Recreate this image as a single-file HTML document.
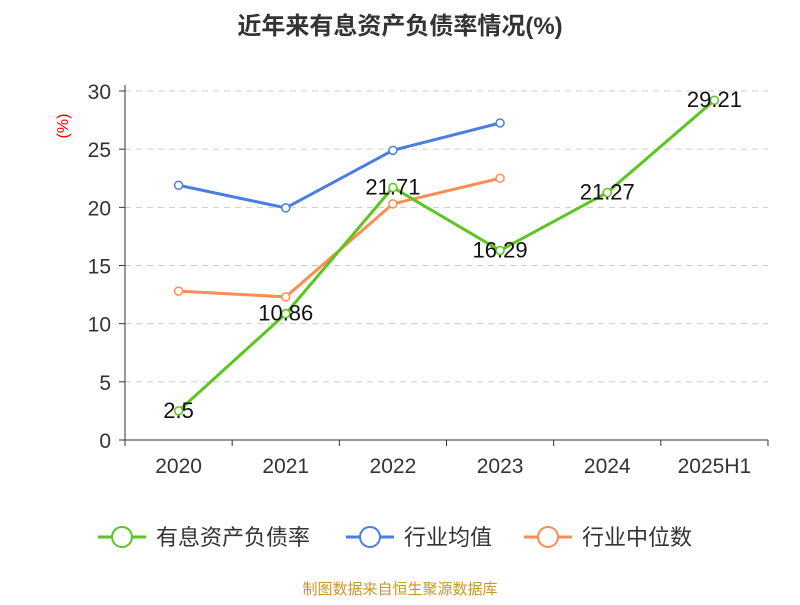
<!DOCTYPE html>
<html><head><meta charset="utf-8"><style>
body{margin:0;background:#fff;font-family:"Liberation Sans","Noto Sans CJK SC",sans-serif}
</style></head><body>
<svg id="c" width="800" height="600" xmlns="http://www.w3.org/2000/svg" style="font-family:'Liberation Sans','Noto Sans CJK SC',sans-serif">
<text x="400" y="34" text-anchor="middle" font-size="24" font-weight="bold" fill="#333">近年来有息资产负债率情况(%)</text>
<text x="68" y="126" text-anchor="middle" font-size="16" fill="#e00" transform="rotate(-90 68 126)">(%)</text>
<g id="grid"></g><g id="axes"></g><g id="series"></g>
<g>
<g><line x1="98" y1="537" x2="146" y2="537" stroke="#5cc51f" stroke-width="3"/><circle cx="122" cy="537" r="10" fill="#fff" stroke="#5cc51f" stroke-width="2"/><text x="156" y="545" font-size="22" fill="#333">有息资产负债率</text></g>
<g><line x1="346" y1="537" x2="394" y2="537" stroke="#4a7ee0" stroke-width="3"/><circle cx="370" cy="537" r="10" fill="#fff" stroke="#4a7ee0" stroke-width="2"/><text x="404" y="545" font-size="22" fill="#333">行业均值</text></g>
<g><line x1="524" y1="537" x2="572" y2="537" stroke="#ff8c52" stroke-width="3"/><circle cx="548" cy="537" r="10" fill="#fff" stroke="#ff8c52" stroke-width="2"/><text x="582" y="545" font-size="22" fill="#333">行业中位数</text></g>
</g>
<text x="400" y="594" text-anchor="middle" font-size="15" fill="#c8962a">制图数据来自恒生聚源数据库</text>
</svg>
<script>
const categories=["2020","2021","2022","2023","2024","2025H1"];
const debtRatio=[2.5,10.86,21.71,16.29,21.27,29.21];
const industryMean=[21.9,19.95,24.9,27.25];
const industryMedian=[12.8,12.3,20.3,22.5];
const yTicks=[0,5,10,15,20,25,30];
const NS="http://www.w3.org/2000/svg";
const x0=125,x1=768,y0=440,y1=91,yMax=30;
const bw=(x1-x0)/categories.length;
const X=i=>x0+bw*(i+0.5);
const Y=v=>y0-(v/yMax)*(y0-y1);
function mk(t,a,p){const e=document.createElementNS(NS,t);for(const k in a)e.setAttribute(k,a[k]);p.appendChild(e);return e;}
const grid=document.getElementById('grid'),axes=document.getElementById('axes'),ser=document.getElementById('series');
yTicks.forEach(v=>{
 if(v>0){const g=mk('line',{x1:x0,x2:x1,y1:Y(v),y2:Y(v),stroke:'#ccc','stroke-dasharray':'6,5'},grid);
 
 }
 mk('line',{x1:x0-6,x2:x0,y1:Y(v),y2:Y(v),stroke:'#333'},axes);
 const t=mk('text',{x:x0-14,y:Y(v)+8,'text-anchor':'end','font-size':21,fill:'#333'},axes);t.textContent=v;
 
 
});
mk('line',{x1:x0,x2:x0,y1:y1-6,y2:y0,stroke:'#333'},axes);
mk('line',{x1:x0,x2:x1,y1:y0,y2:y0,stroke:'#333'},axes);
for(let i=0;i<=categories.length;i++)mk('line',{x1:x0+bw*i,x2:x0+bw*i,y1:y0,y2:y0+6,stroke:'#333'},axes);
categories.forEach((c,i)=>{const t=mk('text',{x:X(i),y:y0+33,'text-anchor':'middle','font-size':21,fill:'#333'},axes);t.textContent=c;
 
 });
function series(d,col,name,labels){
 const g=mk('g',{},ser);
 
 
 mk('polyline',{points:d.map((v,i)=>X(i)+','+Y(v)).join(' '),fill:'none',stroke:col,'stroke-width':3},g);
 d.forEach((v,i)=>{const p=mk('circle',{cx:X(i),cy:Y(v),r:4,fill:'#fff',stroke:col,'stroke-width':1.5},g);
  
  
  if(labels){const t=mk('text',{x:X(i),y:Y(v)+7,'text-anchor':'middle','font-size':22,fill:'#111'},g);t.textContent=v;
  
  }});
}
series(industryMean,'#4a7ee0','industry-mean-line',false);
series(industryMedian,'#ff8c52','industry-median-line',false);
series(debtRatio,'#5cc51f','debt-ratio-line',true);
</script>
</body></html>
